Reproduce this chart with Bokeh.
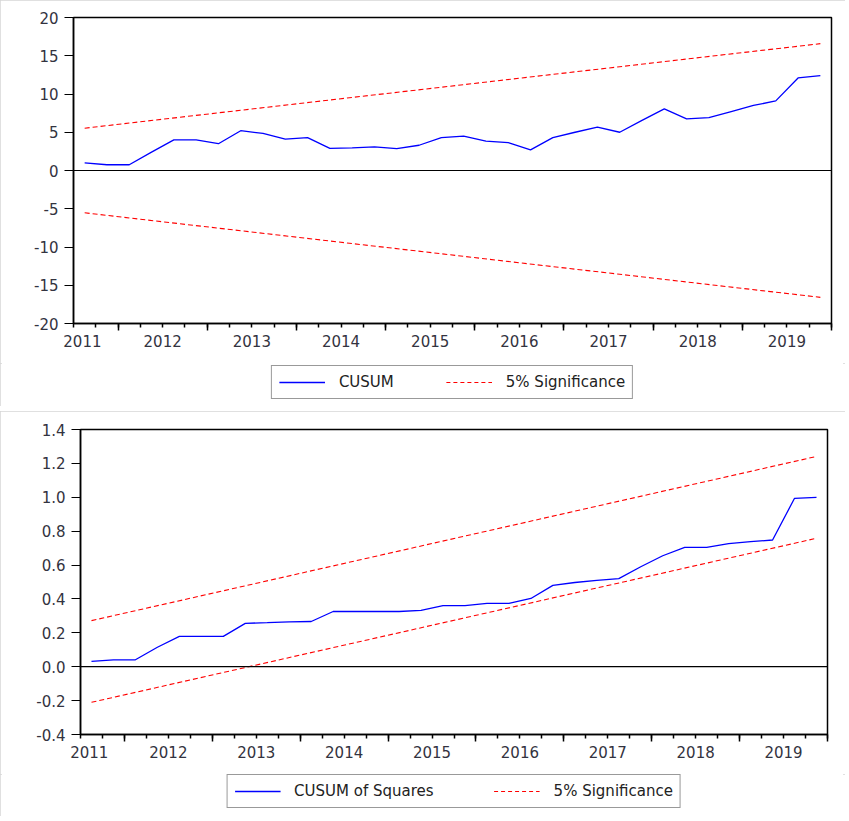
from bokeh.plotting import figure
from bokeh.models import (Range1d, LinearAxis, FixedTicker, Span, Legend, LegendItem,
                          PrintfTickFormatter)
from bokeh.layouts import column
from bokeh.embed import file_html
from bokeh.resources import INLINE

# ---------------- data ----------------
year_labels = ["2011", "2012", "2013", "2014", "2015", "2016", "2017", "2018", "2019"]
year_label_pos = [0.4, 4, 8, 12, 16, 20, 24, 28, 32]        # quarter-slot index of label
year_bound_ticks = [2, 6, 10, 14, 18, 22, 26, 30, 34]       # long ticks (Q1 boundaries)
quarter_ticks = list(range(35))                              # short ticks (every quarter)
n_obs = 34                                                   # 2011Q3 .. 2019Q4

cusum = [1.0, 0.75, 0.75, 2.4, 4.0, 4.0, 3.5, 5.2, 4.85, 4.1,
         4.3, 2.9, 2.95, 3.1, 2.85, 3.3, 4.3, 4.5, 3.85, 3.65,
         2.7, 4.3, 5.0, 5.66, 5.0, 6.55, 8.06, 6.75, 6.9, 7.7,
         8.5, 9.1, 12.1, 12.4]
cusum_upper = [5.53, 16.58]
cusum_lower = [-5.53, -16.58]

cusumsq = [0.031, 0.041, 0.041, 0.115, 0.179, 0.179, 0.179, 0.256, 0.26, 0.265,
           0.267, 0.326, 0.326, 0.326, 0.326, 0.333, 0.36, 0.36, 0.374, 0.374,
           0.403, 0.48, 0.497, 0.51, 0.52, 0.59, 0.655, 0.704, 0.704, 0.727,
           0.738, 0.748, 0.994, 1.0]
cusumsq_upper = [0.272, 1.241]
cusumsq_lower = [-0.210, 0.758]

top_yticks = [-20, -15, -10, -5, 0, 5, 10, 15, 20]
bot_yticks = [-0.4, -0.2, 0.0, 0.2, 0.4, 0.6, 0.8, 1.0, 1.2, 1.4]

# ---------------- styling ----------------
FONT = "DejaVu Sans"
FS = "15px"
TXT = "#333340"
BLUE = "blue"
RED = "red"
DASH = "5 3"

obs_x = [i + 0.5 for i in range(n_obs)]
band_x = [obs_x[0], obs_x[-1]]


def make_panel(values, upper, lower, yr, yticks, yfmt,
               fw, fh, bl, br, bt, bb):
    p = figure(frame_width=fw, frame_height=fh, output_backend="svg", toolbar_location=None,
               x_range=Range1d(0, n_obs), y_range=Range1d(*yr),
               x_axis_location=None, min_border_left=bl, min_border_right=br,
               min_border_top=bt, min_border_bottom=bb)
    p.xgrid.visible = False
    p.ygrid.visible = False
    p.outline_line_color = "black"
    p.outline_line_width = 1.5
    p.background_fill_color = "white"
    p.border_fill_color = "white"

    ya = p.yaxis[0]
    ya.ticker = FixedTicker(ticks=yticks, minor_ticks=[])
    ya.formatter = PrintfTickFormatter(format=yfmt)
    ya.major_tick_out = 9
    ya.major_tick_in = 0
    ya.major_tick_line_color = "black"
    ya.axis_line_color = "black"
    ya.axis_line_width = 1.5
    ya.major_label_standoff = 6
    ya.major_label_text_font = FONT
    ya.major_label_text_font_size = FS
    ya.major_label_text_color = TXT

    xa = LinearAxis(ticker=FixedTicker(ticks=year_bound_ticks, minor_ticks=quarter_ticks),
                    major_label_overrides={t: "" for t in year_bound_ticks},
                    major_tick_out=7, major_tick_in=0, minor_tick_out=4, minor_tick_in=0,
                    major_tick_line_color="black", minor_tick_line_color="black",
                    major_tick_line_width=1.5, minor_tick_line_width=1.5,
                    axis_line_color="black", axis_line_width=1.5,
                    major_label_text_font=FONT, major_label_text_font_size=FS,
                    major_label_standoff=0)
    xb = LinearAxis(ticker=FixedTicker(ticks=year_label_pos, minor_ticks=[]),
                    major_label_overrides={k: v for k, v in zip(year_label_pos, year_labels)},
                    axis_line_color=None, major_tick_line_color=None,
                    minor_tick_line_color=None, major_tick_out=0, major_tick_in=0,
                    major_label_standoff=4, major_label_text_font=FONT,
                    major_label_text_font_size=FS, major_label_text_color=TXT)
    p.add_layout(xa, "below")
    p.add_layout(xb, "below")

    p.add_layout(Span(location=0, dimension="width", line_color="black", line_width=1.2))

    p.line(band_x, upper, line_color=RED, line_width=1.1, line_dash=DASH)
    p.line(band_x, lower, line_color=RED, line_width=1.1, line_dash=DASH)
    p.line(obs_x, values, line_color=BLUE, line_width=1.3)
    return p


def make_legend(values, upper, label, fw, fh, bl, br, bb, spacing):
    q = figure(frame_width=fw, frame_height=fh, output_backend="svg", toolbar_location=None,
               x_range=Range1d(0, 1), y_range=Range1d(0, 1),
               x_axis_location=None, y_axis_location=None,
               min_border_left=bl, min_border_right=br, min_border_top=0,
               min_border_bottom=bb)
    q.xgrid.visible = False
    q.ygrid.visible = False
    q.outline_line_color = None
    q.background_fill_color = "white"
    q.border_fill_color = "white"
    # hidden copies of the series, used only to draw the legend keys
    r_val = q.line(obs_x, values, line_color=BLUE, line_width=1.3, visible=False)
    r_sig = q.line(band_x, upper, line_color=RED, line_width=1.1, line_dash="4 3",
                   visible=False)
    leg = Legend(items=[LegendItem(label=label, renderers=[r_val]),
                        LegendItem(label="5% Significance", renderers=[r_sig])],
                 orientation="horizontal", location="center", click_policy="none",
                 border_line_color="#333333", border_line_width=1.5,
                 background_fill_color="white", label_text_font=FONT,
                 label_text_font_size=FS, label_text_color="#222222",
                 glyph_width=46, glyph_height=16, padding=7, spacing=spacing,
                 label_standoff=14, margin=0)
    q.add_layout(leg, "center")
    return q


FRAME_STYLE = {"outline": "2px solid #d6d6d6", "outline-offset": "-2px"}

p1 = make_panel(cusum, cusum_upper, cusum_lower, (-20, 20), top_yticks, "%d",
                758, 306, 73, 14, 17, 40)
l1 = make_legend(cusum, cusum_upper, "CUSUM", 758, 37, 73, 14, 6, 52)
p2 = make_panel(cusumsq, cusumsq_upper, cusumsq_lower, (-0.4, 1.4), bot_yticks, "%.1f",
                747, 305, 80, 18, 18, 40)
l2 = make_legend(cusumsq, cusumsq_upper, "CUSUM of Squares", 747, 34, 80, 18, 8, 60)

panel1 = column(p1, l1, styles=FRAME_STYLE)
panel2 = column(p2, l2, styles=FRAME_STYLE)
layout = column(panel1, panel2, spacing=5)
open("out.html", "w").write(file_html(layout, INLINE))
